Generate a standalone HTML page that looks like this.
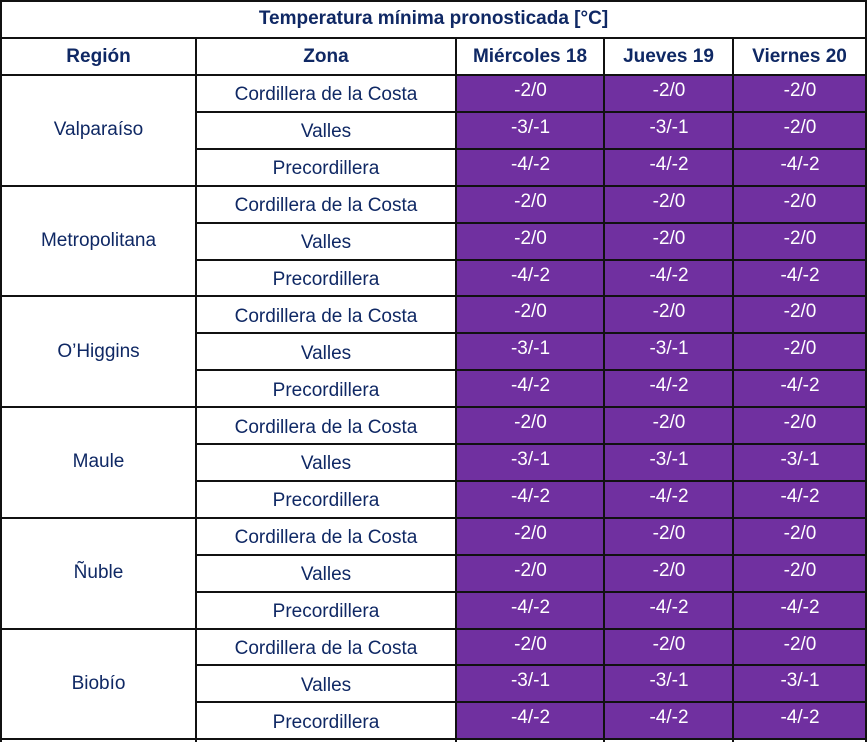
<!DOCTYPE html>
<html><head><meta charset="utf-8"><style>
body{margin:0;width:867px;height:742px;background:#fff;position:relative;overflow:hidden;font-family:"Liberation Sans",Arial,sans-serif;color:#0f2864}
.c{position:absolute;box-sizing:border-box;display:flex;justify-content:center;text-align:center;font-size:19px}
.h{font-weight:bold;align-items:center}
.z{align-items:center;padding-top:4px}
.r{align-items:center}
.v{background:#7030a0;color:#fff;align-items:flex-start;padding-top:4px}
.ln{position:absolute;background:#111}
</style></head><body>
<script>
const regions=["Valparaíso","Metropolitana","O’Higgins","Maule","Ñuble","Biobío"];
const zones=["Cordillera de la Costa","Valles","Precordillera"];
const days=["Miércoles 18","Jueves 19","Viernes 20"];
const values=[
["-2/0","-2/0","-2/0"],["-3/-1","-3/-1","-2/0"],["-4/-2","-4/-2","-4/-2"],
["-2/0","-2/0","-2/0"],["-2/0","-2/0","-2/0"],["-4/-2","-4/-2","-4/-2"],
["-2/0","-2/0","-2/0"],["-3/-1","-3/-1","-2/0"],["-4/-2","-4/-2","-4/-2"],
["-2/0","-2/0","-2/0"],["-3/-1","-3/-1","-3/-1"],["-4/-2","-4/-2","-4/-2"],
["-2/0","-2/0","-2/0"],["-2/0","-2/0","-2/0"],["-4/-2","-4/-2","-4/-2"],
["-2/0","-2/0","-2/0"],["-3/-1","-3/-1","-3/-1"],["-4/-2","-4/-2","-4/-2"]];
const X=[1,196,456,604,733,866];
const rowY=i=>75+i*36.9;
function cell(cls,x,y,w,h,t,name){
 const d=document.createElement('div');d.className='c '+cls;
 d.style.left=x+'px';d.style.top=y+'px';d.style.width=w+'px';d.style.height=h+'px';
 d.textContent=t;
 
 
 document.body.appendChild(d);}
function line(x,y,w,h){const d=document.createElement('div');d.className='ln';
 d.style.left=x+'px';d.style.top=y+'px';d.style.width=w+'px';d.style.height=h+'px';
 
 
 document.body.appendChild(d);}
cell('h',0,0,867,38,'Temperatura mínima pronosticada [°C]','table-title');
cell('h',X[0],38,X[1]-X[0],37,'Región','region-header');
cell('h',X[1],38,X[2]-X[1],37,'Zona','zone-header');
days.forEach((d,j)=>cell('h',X[j+2],38,X[j+3]-X[j+2],37,d,'day-header'));
values.forEach((row,i)=>{
 const y=rowY(i);
 cell('z',X[1],y,X[2]-X[1],36.9,zones[i%3],'zone-cell');
 row.forEach((v,j)=>cell('v',X[j+2]+1,y+1,X[j+3]-X[j+2]-1,35.9,v,'temp-cell'));
});
regions.forEach((r,k)=>cell('r',X[0],rowY(k*3),X[1]-X[0],36.9*3,r,'region-cell'));
// grid lines
line(0,0,867,2);line(0,37,867,2);line(0,74,867,2);
line(0,0,2,742);line(865,0,2,742);
for(let j=1;j<5;j++)line(X[j]-1,37,2,705);
for(let i=1;i<=18;i++){const y=Math.round(rowY(i))-1;
 if(i%3===0)line(0,y,867,2);else line(X[1],y,867-X[1],2);}
</script>
</body></html>
